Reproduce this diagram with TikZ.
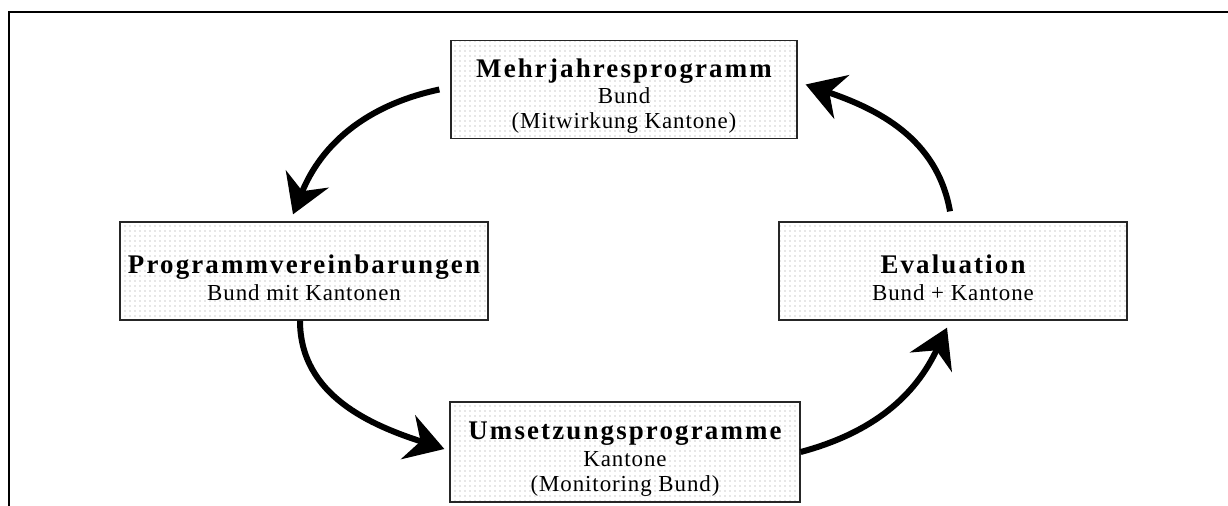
\documentclass[tikz,border=0pt]{standalone}
\usepackage{fontspec}
\setmainfont{Liberation Serif}
\newfontfamily\headfont[LetterSpace=8]{Liberation Serif}
\newfontfamily\linefont[LetterSpace=4]{Liberation Serif}
\usepackage{tikz}
\usetikzlibrary{arrows.meta,patterns.meta}
\newcommand\boxhead[1]{{\headfont\bfseries\fontsize{27}{27}\selectfont\rule{0pt}{32bp}#1}}

\begin{document}
\begin{tikzpicture}[x=1bp,y=1bp,
  box/.style={draw=black!85,line width=1.3bp,pattern={Dots[distance=5bp,radius=0.55bp]},pattern color=black!40,
    minimum width=#1,minimum height=98bp,inner sep=0pt,align=center,font=\linefont\fontsize{23}{25}\selectfont},
  cyc/.style={-{Stealth[length=38bp,width=46bp,inset=13bp]},line width=6bp}]
\useasboundingbox (0,0) rectangle (1228,-506);
\draw [line width=2.5bp] (9,-506) -- (9,-12) -- (1228,-12);
\node (Mehr) at (624bp,-89.5bp)[box=346bp] {\boxhead{Mehrjahresprogramm}\\[1.5bp] Bund\\ (Mitwirkung Kantone)};
\node (Prog) at (304bp,-271bp)[box=368bp] {\boxhead{Programmvereinbarungen}\\[1.5bp] Bund mit Kantonen};
\node (Eval) at (953bp,-271bp)[box=348bp] {\boxhead{Evaluation}\\[1.5bp] Bund + Kantone};
\node (Umsetz) at (625bp,-452bp)[box=350bp,minimum height=100bp] {\boxhead{Umsetzungsprogramme}\\[1.5bp] Kantone\\ (Monitoring Bund)};
\draw [cyc] ([xshift=-11bp]Mehr.west) to[out=192,in=68] ([xshift=-11bp,yshift=7bp]Prog.north);
\draw [cyc] ([xshift=-4bp]Prog.south) to[out=-90,in=162] ([xshift=-5bp,yshift=3bp]Umsetz.west);
\draw [cyc] (Umsetz.east) to[out=15,in=245] ([xshift=-6bp,yshift=-7bp]Eval.south);
\draw [cyc] ([xshift=-3bp,yshift=10bp]Eval.north) to[out=100,in=-19] ([xshift=8bp,yshift=5bp]Mehr.east);
\end{tikzpicture}
\end{document}
